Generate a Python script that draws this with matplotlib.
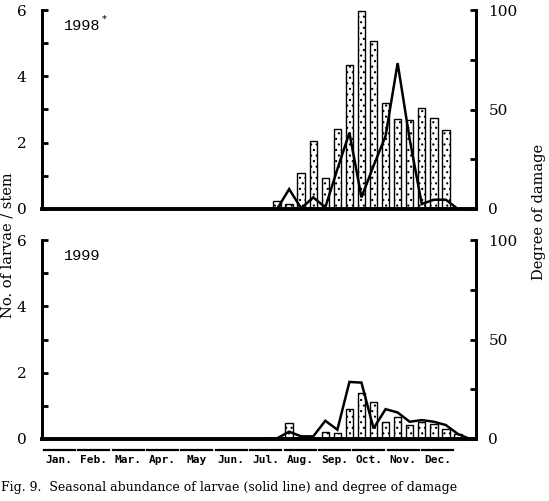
import matplotlib
matplotlib.use("Agg")
import matplotlib.pyplot as plt

# decades: 0 = Jan first 10 days ... 35 = Dec last 10 days
months = ['Jan.', 'Feb.', 'Mar.', 'Apr.', 'May', 'Jun.', 'Jul.', 'Aug.', 'Sep.', 'Oct.', 'Nov.', 'Dec.']

# 1998 - larvae per stem (line) and degree of damage (bars)
larvae_98_x = [18, 19, 20, 21, 22, 23, 24, 25, 26, 27, 28, 29, 30, 31, 32, 33, 34]
larvae_98 = [0, 0, 0.6, 0.02, 0.35, 0.05, 1.2, 2.3, 0.35, 1.3, 2.2, 4.4, 2.1, 0.15, 0.28, 0.28, 0]
damage_98_x = [19, 20, 21, 22, 23, 24, 25, 26, 27, 28, 29, 30, 31, 32, 33]
damage_98 = [4.2, 2.4, 17.9, 34.3, 15.4, 40.2, 72.5, 99.7, 84.3, 53.1, 45.2, 44.7, 50.6, 45.7, 39.7]

# 1999
larvae_99_x = [18, 19, 20, 21, 22, 23, 24, 25, 26, 27, 28, 29, 30, 31, 32, 33, 34, 35]
larvae_99 = [0, 0.02, 0.22, 0.08, 0.08, 0.55, 0.28, 1.72, 1.70, 0.32, 0.9, 0.8, 0.52, 0.57, 0.52, 0.42, 0.15, 0]
damage_99_x = [20, 23, 24, 25, 26, 27, 28, 29, 30, 31, 32, 33, 34]
damage_99 = [8.2, 3.7, 3.2, 14.9, 23.3, 18.8, 8.7, 10.9, 7.0, 8.7, 7.4, 4.9, 2.5]

plt.rcParams['font.family'] = 'DejaVu Serif'
plt.rcParams['hatch.linewidth'] = 0.8

fig = plt.figure(figsize=(5.49, 5.01), dpi=100)
L, R = 42 / 549, 476 / 549
panels = [
    (1 - 209 / 501, 1 - 10 / 501, larvae_98_x, larvae_98, damage_98_x, damage_98, '1998'),
    (1 - 439 / 501, 1 - 240 / 501, larvae_99_x, larvae_99, damage_99_x, damage_99, '1999'),
]

for bot, top, lx, ly, dx, dy, year in panels:
    ax = fig.add_axes([L, bot, R - L, top - bot])
    ax2 = ax.twinx()
    ax2.bar(dx, dy, width=0.62, facecolor='white', edgecolor='black',
            linewidth=1.0, hatch='...')
    ax.plot(lx, ly, color='black', lw=1.8, solid_joinstyle='miter')
    ax.set_zorder(ax2.get_zorder() + 1)
    ax.patch.set_visible(False)

    ax.set_xlim(-0.5, 35.5)
    ax.set_ylim(0, 6)
    ax2.set_ylim(0, 100)
    ax.set_xticks([])
    ax.set_yticks([0, 2, 4, 6])
    ax.set_yticks([1, 3, 5], minor=True)
    ax2.set_yticks([0, 50, 100])
    ax2.set_yticks([25, 75], minor=True)
    for a in (ax, ax2):
        a.spines['top'].set_visible(False)
        for s in a.spines.values():
            s.set_linewidth(2)
        a.spines['bottom'].set_linewidth(2.6)
    ax.tick_params(axis='y', which='both', direction='in', length=4, width=2,
                   labelsize=11, pad=11)
    ax2.tick_params(axis='y', which='both', direction='in', length=4, width=2,
                    labelsize=11, pad=9)
    ax.text(0.05, 0.955, year, transform=ax.transAxes, family='Liberation Mono',
            fontsize=11, va='top', ha='left')
    if year == '1998':
        ax.text(0.138, 0.975, '*', transform=ax.transAxes, family='DejaVu Serif',
                fontsize=7, va='top', ha='left')
    last_ax = ax

# month label bar under the lower panel
mw = 413 / 434 / 12
for i, m in enumerate(months):
    x0 = i * mw
    last_ax.plot([x0 + 0.004, x0 + mw - 0.004], [-0.055, -0.055], color='black', lw=1.6,
                 transform=last_ax.transAxes, clip_on=False)
    last_ax.text(x0 + mw / 2, -0.082, m, transform=last_ax.transAxes, ha='center', va='top',
                 family='DejaVu Sans Mono', fontsize=8, fontweight='bold')

fig.text(8 / 549, 1 - 245 / 501, 'No. of larvae / stem', rotation=90, ha='center', va='center',
         fontsize=10.5)
fig.text(539 / 549, 1 - 212 / 501, 'Degree of damage', rotation=90, ha='center', va='center',
         fontsize=10.5)
fig.text(1 / 549, 1 - 487 / 501, 'Fig. 9.  Seasonal abundance of larvae (solid line) and degree of damage',
         ha='left', va='center', fontsize=9.0)

fig.savefig('out.png', dpi=100)
